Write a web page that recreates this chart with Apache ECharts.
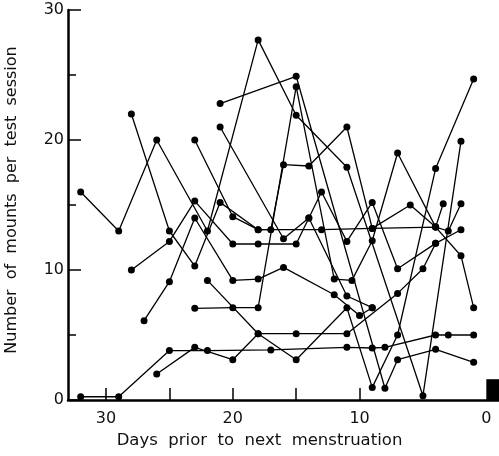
<!DOCTYPE html>
<html><head><meta charset="utf-8">
<script src="https://cdn.jsdelivr.net/npm/echarts@6/dist/echarts.min.js"></script>
<style>html,body{margin:0;padding:0;background:#fff}#c{width:499px;height:456px}</style>
</head><body><div id="c"></div>
<script>
// [days prior to next menstruation, number of mounts per test session]
const female1  = [[32,16],[29,13],[26,20],[22,13],[18,27.7],[15,21.9],[11,17.9],[5,0.33],[2,19.9]];
const female2  = [[32,0.25],[29,0.25],[25,3.8],[22,3.8],[17,3.85],[11,4.05],[9,4],[8,4.05],[4,5],[3,5],[1,5]];
const female3  = [[26,2],[23,4.05],[20,3.1],[18,5.1],[15,3.1],[11,7.1],[9,0.97],[7,5],[4,17.8],[1,24.7]];
const female4  = [[23,7.05],[20,7.1],[18,7.1],[15,24.1],[12,9.3],[10.6,9.2],[9,12.25],[7,19],[4,13.3],[3.4,15.1]];
const female5  = [[22,9.2],[18,5.1],[15,5.1],[11,5.1],[7,8.2],[5,10.1],[4,12.05],[2,13.1]];
const female6  = [[28,10],[25,12.2],[23,15.3],[20,12],[18,12],[15,12],[14,14],[13,16],[11,12.2],[9,15.2],[7,10.1],[4,12.05]];
const female7  = [[27,6.1],[25,9.1],[23,14],[20,9.2],[18,9.3],[16,10.2],[12,8.1],[10,6.5],[9,7.1]];
const female8  = [[23,20],[20,14.1],[18,13.1],[17,13.1],[16,18.1],[14,18],[11,21],[9,13.2],[6,15],[4,13.3],[3,13],[2,15.1]];
const female9  = [[28,22],[25,13],[23,10.3],[21,15.2],[18,13.1],[13,13.1],[9,13.2],[4,13.3],[2,11.1],[1,7.1]];
const female10 = [[21,21],[16,12.4],[14,14],[11,8],[9,7.1]];
const female11 = [[21,22.8],[15,24.9],[8,0.9],[7,3.1],[4,3.9],[1,2.9]];
const females = [female1,female2,female3,female4,female5,female6,female7,female8,female9,female10,female11];

const xTickValues  = [30,25,20,15,10];
const xLabelValues = [30,20,10,0];
// menstruation marker: from day 0 to day -1, height in mounts
const mensesStart = 0, mensesEnd = -1, mensesHeight = 1.6;

const FONT = '"DejaVu Sans", "Liberation Sans", sans-serif';
const chart = echarts.init(document.getElementById('c'), null, {renderer:'canvas'});

const series = females.map((d, i) => ({
  name: 'Female ' + (i + 1),
  type: 'line',
  data: d,
  symbol: 'circle',
  symbolSize: 7,
  showSymbol: true,
  lineStyle: {color: '#000', width: 1.3},
  itemStyle: {color: '#000'},
  emphasis: {disabled: true},
  animation: false,
  markArea: i === 0 ? {
    silent: true,
    itemStyle: {color: '#000'},
    data: [[{coord: [mensesStart, 0]}, {coord: [mensesEnd, mensesHeight]}]]
  } : undefined
}));

chart.setOption({
  animation: false,
  backgroundColor: '#fff',
  grid: {left: 68, right: 0, top: 10, bottom: 56, containLabel: false, outerBoundsMode: 'none'},
  xAxis: {
    type: 'value', inverse: true, min: -1, max: 33,
    axisLine: {show: true, onZero: false, lineStyle: {color: '#000', width: 2.5}},
    axisTick: {show: true, inside: true, length: 12, customValues: xTickValues, lineStyle: {color: '#000', width: 1.5}},
    axisLabel: {customValues: xLabelValues, fontSize: 16, color: '#111', margin: 11, fontFamily: FONT},
    splitLine: {show: false},
    name: 'Days  prior  to  next  menstruation',
    nameLocation: 'middle', nameGap: 30,
    nameTextStyle: {fontSize: 16.5, color: '#111', fontFamily: FONT, padding: [0, 48, 0, 0]}
  },
  yAxis: {
    type: 'value', min: 0, max: 30, interval: 10,
    axisLine: {show: true, onZero: false, lineStyle: {color: '#000', width: 2.5}},
    axisTick: {show: true, inside: true, length: 13, lineStyle: {color: '#000', width: 1.5}},
    minorTick: {show: true, splitNumber: 2, length: 8, lineStyle: {color: '#000', width: 1.5}},
    axisLabel: {fontSize: 16, color: '#111', margin: 4, fontFamily: FONT},
    splitLine: {show: false},
    name: 'Number  of  mounts  per  test  session',
    nameLocation: 'middle', nameGap: 48,
    nameTextStyle: {fontSize: 16, color: '#111', fontFamily: FONT, padding: [0, 0, 0, 10]}
  },
  series: series
});
</script>
</body></html>
